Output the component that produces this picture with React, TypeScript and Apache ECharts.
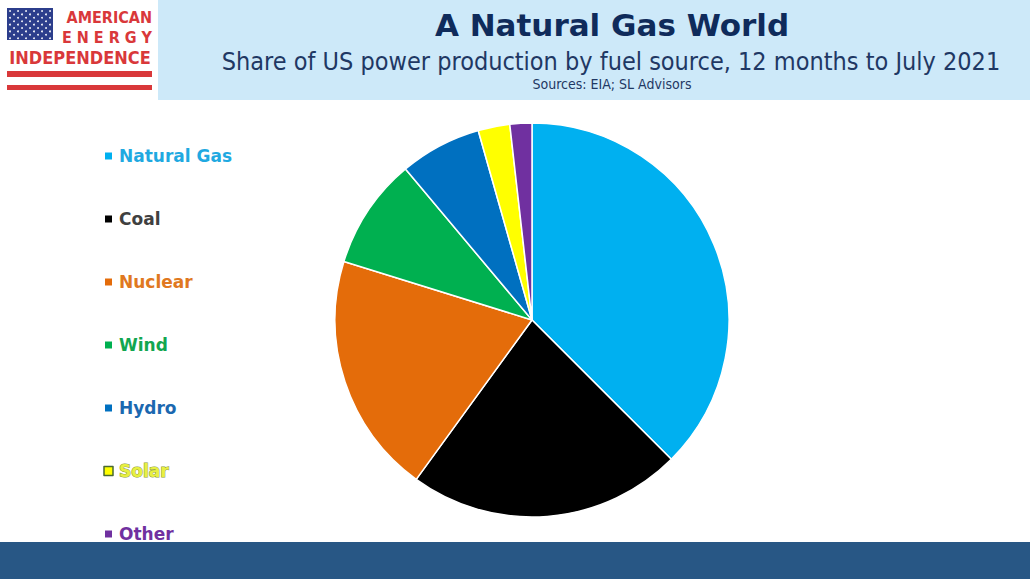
import React, { useEffect, useRef } from "react";
import * as echarts from "echarts";

const categories = ["Natural Gas", "Coal", "Nuclear", "Wind", "Hydro", "Solar", "Other"];
const shares = [37.5, 22.5, 19.8, 9.1, 6.7, 2.6, 1.8];
const sliceColors = ["#00B0F0", "#000000", "#E46C0A", "#00B050", "#0070C0", "#FFFF00", "#7030A0"];
const labelColors = ["#1FA9E1", "#404040", "#E07820", "#12A650", "#1B68B0", "#E8F040", "#7030A0"];

const TITLE = "A Natural Gas World";
const SUBTITLE = "Share of US power production by fuel source, 12 months to July 2021";
const SOURCE = "Sources: EIA; SL Advisors";

function buildStars() {
  const out: any[] = [];
  for (let r = 0; r < 9; r++) {
    const odd = r % 2 === 1;
    const n = odd ? 5 : 6;
    for (let c = 0; c < n; c++) {
      out.push({
        type: "circle",
        shape: { cx: 10 + c * 8 + (odd ? 4 : 0), cy: 11 + r * 3.4, r: 0.9 },
        style: { fill: "#ffffff" },
      });
    }
  }
  return out;
}

export default function App() {
  const ref = useRef<HTMLDivElement>(null);
  useEffect(() => {
    if (!ref.current) return;
    const chart = echarts.init(ref.current, undefined, { renderer: "svg" });
    const red = "#D9383A";
    const cond = "'DejaVu Sans Condensed', 'DejaVu Sans'";
    const option: any = {
      animation: false,
      backgroundColor: "#ffffff",
      graphic: [
        { type: "rect", shape: { x: 158, y: 0, width: 872, height: 100 }, style: { fill: "#CDE9F9" }, z: 0 },
        { type: "rect", shape: { x: 0, y: 542, width: 1030, height: 37 }, style: { fill: "#285785" }, z: 10 },
        // logo
        { type: "rect", shape: { x: 7, y: 8, width: 46, height: 32 }, style: { fill: "#2C3E8C" } },
        ...buildStars(),
        { type: "text", x: 152, y: 17, style: { text: "AMERICAN", fill: red, font: `bold 16px ${cond}`, align: "right", verticalAlign: "middle" } },
        { type: "text", x: 152, y: 37, style: { text: "E N E R G Y", fill: red, font: `bold 16px ${cond}`, align: "right", verticalAlign: "middle" } },
        { type: "text", x: 80, y: 57, style: { text: "INDEPENDENCE", fill: red, font: `bold 18px ${cond}`, align: "center", verticalAlign: "middle" } },
        { type: "rect", shape: { x: 7, y: 71, width: 145, height: 6 }, style: { fill: red } },
        { type: "rect", shape: { x: 7, y: 85, width: 145, height: 5 }, style: { fill: red } },
        // header texts
        { type: "text", x: 612, y: 25, style: { text: TITLE, fill: "#0F2B5B", font: "bold 31px 'DejaVu Sans'", align: "center", verticalAlign: "middle" } },
        { type: "text", x: 611, y: 61, style: { text: SUBTITLE, fill: "#1F3864", font: `25px ${cond}`, align: "center", verticalAlign: "middle" } },
        { type: "text", x: 612, y: 84, style: { text: SOURCE, fill: "#1F3864", font: `14px ${cond}`, align: "center", verticalAlign: "middle" } },
      ],
      legend: {
        orient: "vertical",
        left: 98,
        top: 141,
        itemWidth: 9,
        itemHeight: 9,
        itemGap: 43,
        icon: "rect",
        selectedMode: false,
        textStyle: { fontSize: 17, lineHeight: 20, fontWeight: "bold", fontFamily: "'DejaVu Sans'", padding: [0, 0, 0, 1] },
        data: categories.map((name, i) => ({
          name,
          itemStyle: name === "Solar" ? { color: sliceColors[i], borderColor: "#4A6A30", borderWidth: 1.5 } : { color: sliceColors[i] },
          textStyle: name === "Solar"
            ? { color: labelColors[i], textBorderColor: "#8A9A40", textBorderWidth: 1 }
            : { color: labelColors[i] },
        })),
      },
      series: [
        {
          type: "pie",
          center: [532, 320],
          radius: [0, 197],
          startAngle: 90,
          clockwise: true,
          label: { show: false },
          labelLine: { show: false },
          itemStyle: { borderColor: "#ffffff", borderWidth: 1.5 },
          emphasis: { disabled: true },
          data: categories.map((name, i) => ({ name, value: shares[i], itemStyle: { color: sliceColors[i] } })),
        },
      ],
    };
    chart.setOption(option);
    return () => chart.dispose();
  }, []);
  return <div ref={ref} style={{ position: "fixed", left: 0, top: 0, width: 1030, height: 579 }} />;
}
